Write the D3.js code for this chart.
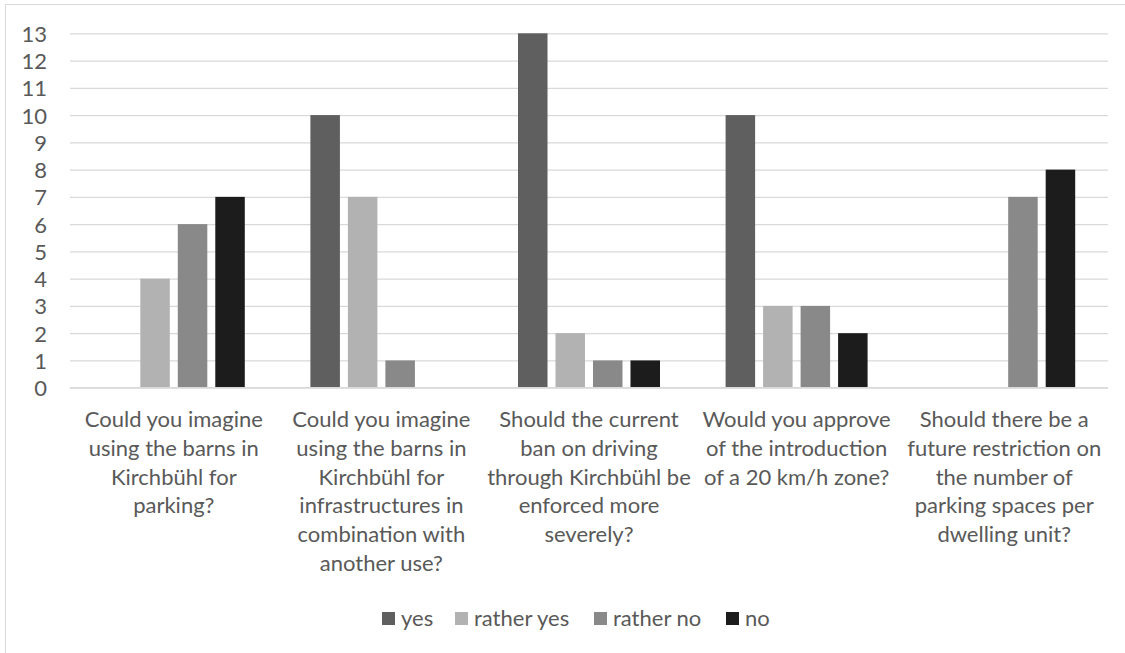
<!DOCTYPE html>
<html>
<head>
<meta charset="utf-8">
<script src="https://cdn.jsdelivr.net/npm/d3@7"></script>
<style>
  html, body { margin: 0; padding: 0; background: #fff; }
  svg { display: block; font-family: Lato, "Open Sans", sans-serif; }
</style>
</head>
<body>
<svg id="chart" width="1125" height="653"></svg>
<script>
// Survey questions (tick labels, pre-wrapped into lines)
const categories = [
  ["Could you imagine", "using the barns in", "Kirchbühl for", "parking?"],
  ["Could you imagine", "using the barns in", "Kirchbühl for", "infrastructures in", "combination with", "another use?"],
  ["Should the current", "ban on driving", "through Kirchbühl be", "enforced more", "severely?"],
  ["Would you approve", "of the introduction", "of a 20 km/h zone?"],
  ["Should there be a", "future restriction on", "the number of", "parking spaces per", "dwelling unit?"]
];
const seriesNames = ["yes", "rather yes", "rather no", "no"];
const yesValues = [0, 10, 13, 10, 0];
const ratherYesValues = [4, 7, 2, 3, 0];
const ratherNoValues = [6, 1, 1, 3, 7];
const noValues = [7, 0, 1, 2, 8];
const yTicks = [0, 1, 2, 3, 4, 5, 6, 7, 8, 9, 10, 11, 12, 13];

const seriesValues = [yesValues, ratherYesValues, ratherNoValues, noValues];
const colors = ["#5f5f5f", "#b2b2b2", "#898989", "#1c1c1c"];
const textColor = "#595959";
const fontSize = "22px";

const svg = d3.select("#chart");
const W = 1125, H = 653;
const plot = { left: 70, right: 1108, top: 33.3, bottom: 387.7 };

// chart frame
svg.append("rect")
  .attr("x", 5.5).attr("y", 4.5)
  .attr("width", W + 20).attr("height", H + 20)
  .attr("fill", "#fff").attr("stroke", "#d9d9d9").attr("stroke-width", 1);

const x = d3.scaleBand()
  .domain(d3.range(categories.length))
  .range([plot.left, plot.right])
  .paddingInner(0).paddingOuter(0);

const xs = d3.scaleBand()
  .domain(d3.range(seriesNames.length))
  .range([0, x.bandwidth()])
  .paddingInner(0.213).paddingOuter(0.875);

const y = d3.scaleLinear().domain([0, 13]).range([plot.bottom, plot.top]);

// gridlines + value labels
const yAxis = d3.axisLeft(y)
  .tickValues(yTicks)
  .tickFormat(d3.format("d"))
  .tickSize(-(plot.right - plot.left))
  .tickPadding(23);

const gy = svg.append("g")
  .attr("transform", `translate(${plot.left},0)`)
  .call(yAxis);
gy.select(".domain").remove();
gy.selectAll(".tick line").attr("stroke", "#d9d9d9").attr("stroke-width", 1.3);
gy.selectAll(".tick text")
  .attr("fill", textColor)
  .attr("dy", "0.36em")
  .style("font-size", fontSize)
  .style("font-family", "Lato, sans-serif");

// bars
const rows = [];
categories.forEach((c, i) => {
  seriesValues.forEach((vals, s) => rows.push({ i, s, v: vals[i] }));
});

svg.append("g").selectAll("rect")
  .data(rows.filter(d => d.v > 0))
  .join("rect")
  .attr("x", d => x(d.i) + xs(d.s))
  .attr("width", xs.bandwidth())
  .attr("y", d => y(d.v))
  .attr("height", d => y(0) - y(d.v))
  .attr("fill", d => colors[d.s]);

// category axis line
svg.append("line")
  .attr("x1", plot.left).attr("x2", plot.right)
  .attr("y1", y(0)).attr("y2", y(0))
  .attr("stroke", "#d9d9d9").attr("stroke-width", 1.3);

// category labels
const lab = svg.append("g").selectAll("text")
  .data(categories)
  .join("text")
  .attr("text-anchor", "middle")
  .attr("fill", textColor)
  .style("font-size", fontSize)
  .attr("transform", (d, i) => `translate(${x(i) + x.bandwidth() / 2},${427})`);
lab.selectAll("tspan")
  .data(d => d)
  .join("tspan")
  .attr("x", 0)
  .attr("y", (d, j) => j * 28.8)
  .text(d => d);

// legend
const legendX = [382, 455, 594, 726];
const lg = svg.append("g").selectAll("g")
  .data(seriesNames)
  .join("g")
  .attr("transform", (d, i) => `translate(${legendX[i]},612)`);
lg.append("rect")
  .attr("width", 13).attr("height", 13)
  .attr("fill", (d, i) => colors[i]);
lg.append("text")
  .attr("x", 19).attr("y", 13.5)
  .attr("fill", textColor)
  .style("font-size", fontSize)
  .text(d => d);
</script>
</body>
</html>
